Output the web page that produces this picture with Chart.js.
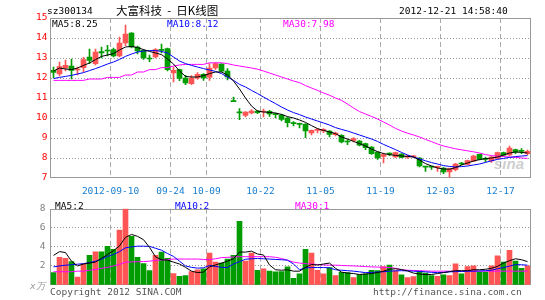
<!DOCTYPE html>
<html><head><meta charset="utf-8">
<script src="https://cdn.jsdelivr.net/npm/chart.js@4.4.1/dist/chart.umd.min.js"></script>
<style>
html,body{margin:0;padding:0;background:#fff;}
#wrap{position:relative;width:545px;height:300px;overflow:hidden;font-family:"DejaVu Sans Mono",monospace;}
.t{position:absolute;white-space:pre;font-size:9.5px;line-height:12px;color:#000;}
canvas{position:absolute;left:0;}
</style></head><body>
<div id="wrap">
<div class="t" id="wm" style="left:494px;top:156px;font-family:'Liberation Sans';font-style:italic;font-weight:bold;font-size:15px;line-height:16px;color:#cfcfcf;">sina</div>
<canvas id="k" width="545" height="198" style="top:0"></canvas>
<canvas id="v" width="545" height="102" style="top:198px"></canvas>
<div class="t" style="left:47px;top:5px">sz300134</div>
<div class="t" style="left:116px;top:3px;font-family:'Noto Sans CJK SC';font-size:11.5px;line-height:15px">大富科技  -  日K线图</div>
<div class="t" style="left:399px;top:5px">2012-12-21 14:58:40</div>
<div class="t" id="l1" style="left:52px;top:18px;color:#000"></div>
<div class="t" id="l2" style="left:167px;top:18px;color:#0000ff"></div>
<div class="t" id="l3" style="left:283px;top:18px;color:#ff00ff"></div>
<div class="t" id="l4" style="left:55px;top:200px;color:#000"></div>
<div class="t" id="l5" style="left:175px;top:200px;color:#0000ff"></div>
<div class="t" id="l6" style="left:295px;top:200px;color:#ff00ff"></div>
<div class="t" style="left:30px;top:280px;color:#999;font-style:italic">x万</div>
<div class="t" style="left:50px;top:286px;color:#555">Copyright 2012 SINA.COM</div>
<div class="t" style="left:373px;top:286px;color:#555">http://finance.sina.com.cn</div>
</div>
<script>
const categories = [
'2012-08-27','2012-08-28','2012-08-29','2012-08-30','2012-08-31',
'2012-09-03','2012-09-04','2012-09-05','2012-09-06','2012-09-07',
'2012-09-10','2012-09-11','2012-09-12','2012-09-13','2012-09-14',
'2012-09-17','2012-09-18','2012-09-19','2012-09-20','2012-09-21',
'2012-09-24','2012-09-25','2012-09-26','2012-09-27','2012-09-28',
'2012-10-08','2012-10-09','2012-10-10','2012-10-11','2012-10-12',
'2012-10-15','2012-10-16','2012-10-17','2012-10-18','2012-10-19',
'2012-10-22','2012-10-23','2012-10-24','2012-10-25','2012-10-26',
'2012-10-29','2012-10-30','2012-10-31','2012-11-01','2012-11-02',
'2012-11-05','2012-11-06','2012-11-07','2012-11-08','2012-11-09',
'2012-11-12','2012-11-13','2012-11-14','2012-11-15','2012-11-16',
'2012-11-19','2012-11-20','2012-11-21','2012-11-22','2012-11-23',
'2012-11-26','2012-11-27','2012-11-28','2012-11-29','2012-11-30',
'2012-12-03','2012-12-04','2012-12-05','2012-12-06','2012-12-07',
'2012-12-10','2012-12-11','2012-12-12','2012-12-13','2012-12-14',
'2012-12-17','2012-12-18','2012-12-19','2012-12-20','2012-12-21'];
const tickDates = ['2012-09-10','2012-09-24','2012-10-09','2012-10-22','2012-11-05','2012-11-19','2012-12-03','2012-12-17'];
const tickLabels = ['2012-09-10','09-24','10-09','10-22','11-05','11-19','12-03','12-17'];
const priceTicks = [7,8,9,10,11,12,13,14,15];
const volumeTicks = [0,2,4,6,8];

const open = [12.38,12.2,12.5,12.6,12.4,12.52,13.05,12.72,13.32,13.4,
13.42,13.1,13.75,14.25,13.55,13.38,13.0,13.05,13.42,13.47,
12.25,12.42,12.0,11.72,12.0,12.18,12.04,12.5,12.7,12.34,
10.84,10.3,10.13,10.25,10.35,10.3,10.33,10.2,10.14,10.0,
9.75,9.72,9.68,9.25,9.38,9.35,9.35,9.17,9.13,8.85,
8.88,8.84,8.72,8.55,8.3,8.08,8.22,8.05,8.2,8.04,
8.06,8.0,7.56,7.56,7.53,7.5,7.3,7.42,7.73,7.68,
7.84,8.18,7.96,7.85,7.98,8.27,8.15,8.42,8.36,8.22];
const high = [12.55,12.8,12.9,12.95,12.55,13.03,13.45,13.45,13.55,13.63,
13.5,14.05,14.65,14.27,13.6,13.42,13.15,13.47,13.7,13.5,
12.55,12.45,12.13,12.12,12.27,12.22,12.72,12.77,12.72,12.47,
11.05,10.47,10.32,10.42,10.38,10.45,10.38,10.25,10.18,10.05,
9.82,9.75,9.72,9.4,9.48,9.47,9.37,9.3,9.17,8.92,
9.02,8.88,8.75,8.57,8.32,8.25,8.26,8.3,8.22,8.15,
8.13,8.02,7.57,7.6,7.6,7.52,7.5,7.73,7.78,7.9,
8.13,8.2,8.05,8.08,8.3,8.3,8.6,8.45,8.47,8.4];
const low = [12.02,12.1,12.35,11.95,12.15,12.3,12.72,12.65,13.0,13.1,
13.05,13.05,13.62,13.5,13.2,12.93,12.82,13.0,13.25,12.35,
11.8,11.87,11.67,11.67,11.93,11.88,11.88,12.43,12.3,11.9,
10.82,9.92,10.05,10.2,10.22,10.05,10.08,10.0,9.85,9.55,
9.6,9.5,9.02,9.15,9.25,9.27,9.05,9.1,8.75,8.67,
8.8,8.6,8.42,8.18,7.93,7.75,8.12,8.02,8.0,7.98,
8.03,7.55,7.33,7.43,7.33,7.22,7.05,7.35,7.65,7.65,
7.82,7.9,7.8,7.78,7.95,8.1,8.1,8.22,8.22,8.15];
const close = [12.28,12.57,12.63,12.38,12.45,12.92,12.88,13.3,13.26,13.35,
13.1,13.75,14.2,13.55,13.35,13.0,12.95,13.42,13.38,12.42,
12.38,11.98,11.76,12.0,12.18,12.0,12.5,12.72,12.34,12.06,
10.82,10.26,10.3,10.35,10.27,10.33,10.2,10.17,9.93,9.77,
9.72,9.68,9.35,9.38,9.42,9.43,9.18,9.25,8.8,8.8,
8.97,8.64,8.52,8.22,8.0,8.17,8.19,8.27,8.03,8.1,
8.09,7.6,7.54,7.54,7.56,7.3,7.47,7.7,7.7,7.87,
8.1,7.93,7.93,8.05,8.27,8.14,8.5,8.3,8.33,8.33];
const ma5 = [12.35,12.5,12.45,12.42,12.5,12.63,12.75,12.92,13.08,13.15,
13.22,13.4,13.55,13.58,13.52,13.42,13.33,13.25,13.17,12.95,
12.7,12.35,12.08,12.05,12.05,12.12,12.22,12.3,12.3,12.15,
11.85,11.45,11.0,10.6,10.35,10.3,10.28,10.25,10.18,10.07,
10.0,9.9,9.78,9.62,9.47,9.38,9.3,9.22,9.05,8.95,
8.83,8.72,8.6,8.45,8.32,8.22,8.17,8.13,8.1,8.08,
8.05,7.9,7.72,7.6,7.5,7.45,7.44,7.52,7.65,7.75,
7.85,7.92,7.97,8.0,8.05,8.15,8.25,8.3,8.28,8.25];
const ma10 = [11.97,12.03,12.08,12.13,12.2,12.27,12.37,12.47,12.58,12.7,
12.8,12.93,13.08,13.2,13.3,13.35,13.37,13.37,13.33,13.25,
13.05,12.85,12.72,12.63,12.55,12.47,12.4,12.33,12.22,12.05,
11.88,11.68,11.55,11.38,11.22,11.05,10.88,10.72,10.55,10.4,
10.27,10.17,10.05,9.95,9.85,9.75,9.65,9.52,9.43,9.35,
9.25,9.15,9.05,8.95,8.83,8.68,8.55,8.42,8.28,8.15,
8.05,7.96,7.86,7.77,7.7,7.62,7.58,7.55,7.57,7.6,
7.65,7.7,7.78,7.86,7.93,7.98,8.03,8.07,8.1,8.12];
const ma30 = [11.88,11.88,11.88,11.88,11.88,11.88,11.95,11.95,11.95,12.03,
12.03,12.03,12.15,12.15,12.3,12.3,12.42,12.42,12.52,12.52,
12.6,12.65,12.68,12.68,12.68,12.68,12.76,12.76,12.76,12.72,
12.65,12.6,12.55,12.5,12.44,12.35,12.25,12.15,12.05,11.95,
11.85,11.77,11.62,11.5,11.38,11.25,11.14,11.0,10.88,10.7,
10.5,10.32,10.2,10.08,9.95,9.8,9.65,9.48,9.35,9.24,
9.15,9.05,8.93,8.82,8.7,8.6,8.53,8.46,8.41,8.36,
8.31,8.25,8.17,8.12,8.09,8.07,8.05,8.03,8.0,7.98];
const volume = [1.3,2.9,2.8,2.45,0.83,2.2,3.1,3.47,3.47,4.05,
3.74,5.75,8.0,5.1,2.9,2.25,1.5,3.1,3.45,2.8,
1.2,0.9,1.0,1.4,1.6,1.7,3.35,2.4,2.3,2.72,
3.1,6.67,2.5,3.35,1.55,1.7,1.45,1.39,1.4,1.9,
0.69,1.17,3.73,3.35,1.55,1.17,1.83,0.98,1.33,1.3,
0.79,1.07,1.17,1.55,1.5,1.93,2.09,1.5,1.07,0.79,
0.88,1.45,1.26,0.98,0.92,1.07,0.98,2.21,1.17,1.93,
2.02,1.36,1.36,2.02,3.06,2.4,3.63,2.5,1.74,2.02];
const vma5 = [3.1,3.5,3.4,2.5,2.0,2.2,2.3,2.4,2.8,3.2,
3.6,4.1,5.0,5.3,5.1,4.75,3.95,2.95,2.65,2.6,
2.4,2.2,1.85,1.45,1.3,1.35,1.9,2.1,2.3,2.5,
2.75,3.45,3.45,3.55,3.25,3.15,2.1,1.6,1.55,1.6,
1.45,1.45,1.85,2.15,2.1,2.2,2.3,1.75,1.35,1.25,
1.2,1.1,1.15,1.2,1.3,1.45,1.65,1.7,1.62,1.48,
1.25,1.15,1.1,1.1,1.2,1.3,1.4,1.5,1.5,1.5,
1.6,1.6,1.65,1.75,1.95,2.3,2.55,2.75,2.65,2.45];
const vma10 = [1.9,2.0,2.08,2.12,2.18,2.24,2.35,2.5,2.7,3.0,
3.2,3.5,3.9,4.0,4.07,4.07,4.05,3.85,3.65,3.3,
3.0,2.5,2.0,1.85,1.77,1.8,2.05,1.95,1.85,1.83,
2.2,2.45,2.7,2.75,2.78,2.75,2.72,2.68,2.65,2.6,
2.2,1.6,1.8,1.83,1.83,1.83,1.8,1.6,1.55,1.5,
1.45,1.38,1.3,1.32,1.36,1.39,1.45,1.48,1.5,1.48,
1.45,1.42,1.38,1.33,1.3,1.32,1.38,1.4,1.42,1.45,
1.45,1.47,1.5,1.55,1.7,1.83,1.98,2.14,2.12,2.08];
const vma30 = [1.39,1.39,1.39,1.39,1.45,1.45,1.55,1.62,1.75,1.85,
2.0,2.15,2.4,2.42,2.44,2.46,2.5,2.58,2.62,2.66,
2.72,2.72,2.72,2.72,2.72,2.68,2.65,2.75,2.87,2.9,
2.93,2.97,2.97,2.97,2.97,2.97,2.97,2.9,2.78,2.6,
2.4,2.3,2.24,2.2,2.15,2.1,2.08,2.08,2.05,2.02,
2.0,1.97,1.93,1.9,1.88,1.86,1.83,1.75,1.6,1.55,
1.52,1.5,1.47,1.45,1.45,1.45,1.45,1.45,1.45,1.45,
1.45,1.45,1.45,1.45,1.45,1.45,1.45,1.45,1.45,1.45];

const RED = '#ff5555', GREEN = '#009c00';
const colors = close.map((c,i)=> c >= open[i] ? RED : GREEN);
const last = a => a[a.length-1];
document.getElementById('l1').textContent = 'MA5:' + last(ma5).toFixed(2);
document.getElementById('l2').textContent = 'MA10:' + last(ma10).toFixed(2);
document.getElementById('l3').textContent = 'MA30:' + last(ma30).toFixed(2);
document.getElementById('l4').textContent = 'MA5:' + Math.round(last(vma5));
document.getElementById('l5').textContent = 'MA10:' + Math.round(last(vma10));
document.getElementById('l6').textContent = 'MA30:' + Math.round(last(vma30));

const FONT = {family:'DejaVu Sans Mono', size:9.5};
const frame = {id:'frame', beforeDatasetsDraw(chart){
  const a = chart.chartArea, c = chart.ctx;
  c.save(); c.strokeStyle = '#999'; c.lineWidth = 1;
  c.strokeRect(Math.round(a.left)-0.5, Math.round(a.top)+0.5, Math.round(a.right-a.left), Math.round(a.bottom-a.top)-1);
  c.restore();
}};
const xGridColor = ctx => tickDates.includes(categories[ctx.index]) ? '#aaaaaa' : 'rgba(0,0,0,0)';
const line = (data,color) => ({type:'line', data, borderColor:color, borderWidth:1, pointRadius:0, tension:0, fill:false, order:0});

new Chart(document.getElementById('k'), {
  type:'bar',
  data:{labels:categories, datasets:[
    line(ma5,'#000000'), line(ma10,'#0000ff'), line(ma30,'#ff00ff'),
    {data:open.map((o,i)=>[o,close[i]]), backgroundColor:colors, barThickness:5, grouped:false, minBarLength:1, order:1},
    {data:low.map((l,i)=>[l,high[i]]), backgroundColor:colors, barThickness:1, grouped:false, order:2}
  ]},
  options:{responsive:false, animation:false, events:[],
    layout:{padding:{left:0,right:14.5,top:18,bottom:0}},
    plugins:{legend:{display:false}, tooltip:{enabled:false}},
    scales:{
      x:{offset:true,
        grid:{offset:true, color:xGridColor, lineWidth:1, drawTicks:false},
        border:{display:false, dash:[5,3]},
        ticks:{autoSkip:false, maxRotation:0, minRotation:0, padding:8, labelOffset:-3, color:'#1a7fd0', font:FONT,
          callback:(v,i)=>{const k = tickDates.indexOf(categories[i]); return k>=0 ? tickLabels[k] : '';}},
        afterFit:s=>{s.height = 20;}},
      y:{min:7, max:15,
        afterBuildTicks:s=>{s.ticks = priceTicks.map(v=>({value:v}));},
        ticks:{color:'#ff0000', padding:3, font:FONT},
        grid:{color:ctx=> (ctx.tick && ctx.tick.value>7 && ctx.tick.value<15) ? '#999999' : 'rgba(0,0,0,0)', drawTicks:false},
        border:{display:false, dash:[1,2]},
        afterFit:s=>{s.width = 50.5;}}
    }
  },
  plugins:[frame]
});

new Chart(document.getElementById('v'), {
  type:'bar',
  data:{labels:categories, datasets:[
    line(vma5,'#000000'), line(vma10,'#0000ff'), line(vma30,'#ff00ff'),
    {data:volume, backgroundColor:colors, barThickness:5, grouped:false, order:1}
  ]},
  options:{responsive:false, animation:false, events:[],
    layout:{padding:{left:0,right:14.5,top:3,bottom:0}},
    plugins:{legend:{display:false}, tooltip:{enabled:false}},
    scales:{
      x:{offset:true,
        grid:{offset:true, color:xGridColor, lineWidth:1, drawTicks:false},
        border:{display:false, dash:[5,3]},
        ticks:{display:false, autoSkip:false},
        afterFit:s=>{s.height = 15;}},
      y:{min:0, max:8,
        afterBuildTicks:s=>{s.ticks = volumeTicks.map(v=>({value:v}));},
        ticks:{color:'#808080', padding:5, font:FONT, callback:v=> v===0 ? '' : String(v)},
        grid:{color:ctx=> (ctx.tick && ctx.tick.value>0 && ctx.tick.value<8) ? '#999999' : 'rgba(0,0,0,0)', drawTicks:false},
        border:{display:false, dash:[1,2]},
        afterFit:s=>{s.width = 50.5;}}
    }
  },
  plugins:[frame]
});
</script>
</body></html>
